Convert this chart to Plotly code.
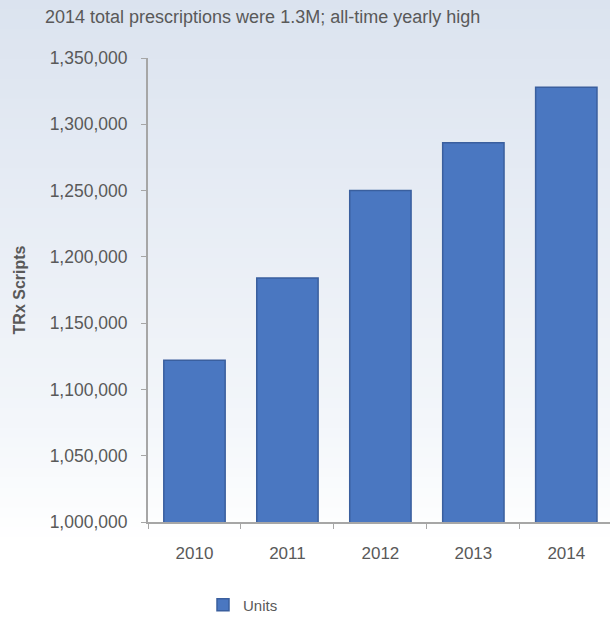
import plotly.graph_objects as go

years = ["2010", "2011", "2012", "2013", "2014"]
units = [1122000, 1184000, 1250000, 1286000, 1328000]
y_ticks = [1000000, 1050000, 1100000, 1150000, 1200000, 1250000, 1300000, 1350000]
y_tick_labels = [f"{v:,}" for v in y_ticks]

W, H = 610, 618
L, R, T, B = 148, 0, 58, 96
pw, ph = W - L - R, H - T - B

fig = go.Figure()
fig.add_trace(go.Bar(
    x=years, y=units, name="Units",
    marker=dict(color="#4a77c1", line=dict(color="#3a5f9e", width=1.5)),
    width=0.66,
))

# background gradient built from horizontal strips (pixel space -> paper coords)
def mix(c1, c2, t):
    return tuple(round(a + (b - a) * t) for a, b in zip(c1, c2))

top = (219, 227, 239)
mid = (243, 246, 250)
bot = (255, 255, 255)
n = 62
shapes = []
for i in range(n):
    y0p = i * H / n
    y1p = (i + 1) * H / n
    yc = (y0p + y1p) / 2
    if yc < 420:
        c = mix(top, mid, yc / 420)
    else:
        c = mix(mid, bot, min(1, (yc - 420) / 120))
    shapes.append(dict(
        type="rect", xref="paper", yref="paper", layer="below",
        x0=-L / pw - 0.01, x1=1.01,
        y0=(H - B - y1p) / ph - 0.002, y1=(H - B - y0p) / ph + 0.002,
        fillcolor=f"rgb{c}", line=dict(width=0),
    ))

font = "Liberation Sans, Arial, sans-serif"
fig.update_layout(
    width=W, height=H,
    margin=dict(l=L, r=R, t=T, b=B, autoexpand=False),
    paper_bgcolor="white", plot_bgcolor="rgba(0,0,0,0)",
    shapes=shapes,
    font=dict(family=font, color="#595959", size=17),
    showlegend=True,
    legend=dict(orientation="h", x=(203 - L) / pw, y=(H - B - 605) / ph, xanchor="left", yanchor="middle",
                itemwidth=30,
                font=dict(size=15, color="#595959"), bgcolor="rgba(0,0,0,0)"),
    annotations=[dict(
        text="2014 total prescriptions were 1.3M; all-time yearly high",
        xref="paper", yref="paper", x=(43 - L) / pw, y=(H - B - 17) / ph,
        xanchor="left", yanchor="middle", showarrow=False,
        font=dict(size=18, color="#595959", family=font),
    )],
    bargap=0.34,
)
fig.update_xaxes(
    range=[-0.5, 4.47], showline=True, linecolor="#a6a6a6", linewidth=2,
    ticks="outside", tickson="boundaries", ticklen=5, tickcolor="#a6a6a6",
    showgrid=False, tickfont=dict(size=17, color="#595959"),
    ticklabelstandoff=15,
)
fig.update_yaxes(
    range=[1000000, 1350000], tickvals=y_ticks, ticktext=y_tick_labels,
    showline=True, linecolor="#a6a6a6", linewidth=2, ticks="outside",
    ticklen=5, tickcolor="#a6a6a6", showgrid=False, zeroline=False,
    tickfont=dict(size=17.5, color="#595959"),
    ticklabelstandoff=10,
    title=dict(text="<b>TRx Scripts</b>", font=dict(size=16, color="#595959"), standoff=20),
)
fig.write_html("out.html")
